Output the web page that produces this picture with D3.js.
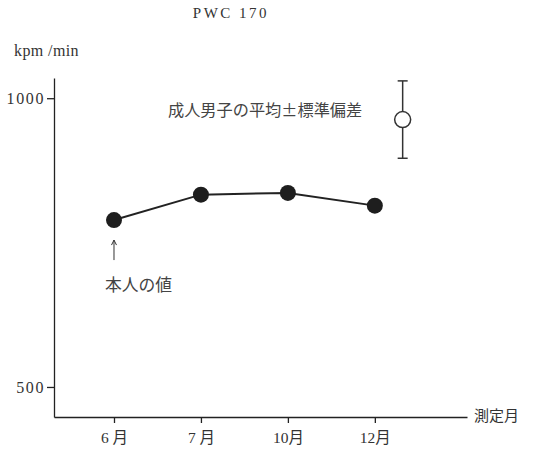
<!DOCTYPE html>
<html>
<head>
<meta charset="utf-8">
<script src="https://cdn.jsdelivr.net/npm/d3@7"></script>
<style>
  body { margin: 0; background: #fff; }
  .axis path, .axis line { stroke: #222; stroke-width: 1.3; }
</style>
</head>
<body>
<svg width="541" height="450"></svg>
<script>
// 測定月ごとの本人の値 (kpm/min)
var months = ["6 月", "7 月", "10月", "12月"];
var pwc = [789, 833, 836, 814];

// 成人男子の平均 ± 標準偏差
var adultPos = 3.32;
var adultMean = 963;
var adultSd = 67;

var yTicks = [500, 1000];

var svg = d3.select("svg");

var x = d3.scaleLinear().domain([-0.69, 4.06]).range([54, 467]),
  y = d3.scaleLinear().domain([448, 1035]).range([417, 78]);

// 軸
svg.append("g")
  .attr("class", "axis")
  .attr("transform", "translate(0," + y(448) + ")")
  .call(d3.axisBottom(x)
    .tickValues(d3.range(months.length))
    .tickFormat(function(d) { return months[d]; })
    .tickSizeInner(6)
    .tickSizeOuter(0)
    .tickPadding(9))
  .attr("font-family", "'Liberation Serif', 'Noto Sans CJK JP', serif")
  .attr("font-size", 15.5)
  .selectAll("text").attr("fill", "#333");

svg.append("g")
  .attr("class", "axis")
  .attr("transform", "translate(" + x(-0.69) + ",0)")
  .call(d3.axisLeft(y)
    .tickValues(yTicks)
    .tickFormat(d3.format("d"))
    .tickSizeInner(7)
    .tickSizeOuter(0)
    .tickPadding(2))
  .attr("font-family", "'Liberation Serif', serif")
  .attr("font-size", 16)
  .selectAll("text")
  .attr("fill", "#333")
  .style("letter-spacing", "1.6px");

// 本人の値
var line = d3.line()
  .x(function(d, i) { return x(i); })
  .y(function(d) { return y(d); });

svg.append("path")
  .datum(pwc)
  .attr("fill", "none")
  .attr("stroke", "#222")
  .attr("stroke-width", 2)
  .attr("d", line);

svg.selectAll(".pt")
  .data(pwc)
  .enter().append("circle")
  .attr("class", "pt")
  .attr("cx", function(d, i) { return x(i); })
  .attr("cy", function(d) { return y(d); })
  .attr("r", 8)
  .attr("fill", "#1e1e1e");

// 平均 ± 標準偏差
var ax = x(adultPos);
svg.append("line")
  .attr("x1", ax).attr("x2", ax)
  .attr("y1", y(adultMean + adultSd)).attr("y2", y(adultMean - adultSd))
  .attr("stroke", "#333").attr("stroke-width", 1.5);
[adultMean + adultSd, adultMean - adultSd].forEach(function(v) {
  svg.append("line")
    .attr("x1", ax - 5).attr("x2", ax + 5)
    .attr("y1", y(v)).attr("y2", y(v))
    .attr("stroke", "#333").attr("stroke-width", 1.5);
});
svg.append("circle")
  .attr("cx", ax).attr("cy", y(adultMean))
  .attr("r", 8)
  .attr("fill", "#fff")
  .attr("stroke", "#333")
  .attr("stroke-width", 1.5);

// 矢印
var arrowTop = y(pwc[0]) + 20;
svg.append("line")
  .attr("x1", x(0)).attr("x2", x(0))
  .attr("y1", arrowTop).attr("y2", arrowTop + 20)
  .attr("stroke", "#333").attr("stroke-width", 1);
svg.append("path")
  .attr("d", "M" + (x(0) - 2.5) + "," + (arrowTop + 5) + "L" + x(0) + "," + arrowTop + "L" + (x(0) + 2.5) + "," + (arrowTop + 5))
  .attr("fill", "none")
  .attr("stroke", "#333").attr("stroke-width", 1);

// テキスト
svg.append("text")
  .attr("x", 231).attr("y", 18)
  .attr("text-anchor", "middle")
  .attr("font-family", "'Liberation Serif', serif")
  .attr("font-size", 15)
  .style("letter-spacing", "2.5px")
  .attr("fill", "#333")
  .text("PWC 170");

svg.append("text")
  .attr("x", 14).attr("y", 56)
  .attr("font-family", "'Liberation Serif', serif")
  .attr("font-size", 16)
  .style("letter-spacing", "0.4px")
  .attr("fill", "#333")
  .text("kpm /min");

svg.append("text")
  .attr("x", 168).attr("y", 116)
  .attr("font-family", "'Noto Sans CJK JP', sans-serif")
  .attr("font-size", 16.2)
  .attr("fill", "#444")
  .text("成人男子の平均±標準偏差");

svg.append("text")
  .attr("x", 105).attr("y", 291)
  .attr("font-family", "'Noto Sans CJK JP', sans-serif")
  .attr("font-size", 16.8)
  .attr("fill", "#444")
  .text("本人の値");

svg.append("text")
  .attr("x", 474).attr("y", 421)
  .attr("font-family", "'Noto Sans CJK JP', sans-serif")
  .attr("font-size", 15)
  .attr("fill", "#333")
  .text("測定月");
</script>
</body>
</html>
